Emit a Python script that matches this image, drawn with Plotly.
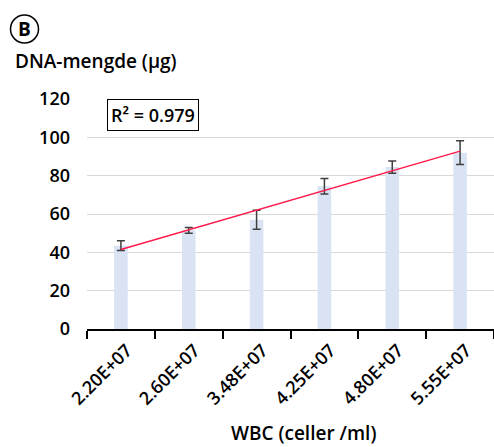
import numpy as np
import plotly.graph_objects as go

# WBC concentration (cells/ml) categories and measured DNA yield
wbc_labels = ["2.20E+07", "2.60E+07", "3.48E+07", "4.25E+07", "4.80E+07", "5.55E+07"]
dna_yield = [43.5, 51.5, 57.0, 74.5, 84.5, 92.0]
dna_sd = [2.5, 1.5, 5.0, 4.0, 3.2, 6.2]
y_ticks = [0, 20, 40, 60, 80, 100, 120]

# linear trend over category index
idx = np.arange(1, len(dna_yield) + 1)
slope, intercept = np.polyfit(idx, dna_yield, 1)
trend = slope * idx + intercept
r2 = np.corrcoef(idx, dna_yield)[0, 1] ** 2

FONT = "Open Sans"
W = 600

fig = go.Figure()
fig.add_trace(go.Bar(
    x=wbc_labels, y=dna_yield,
    marker=dict(color="#dae3f3", line=dict(width=0)),
    error_y=dict(type="data", array=dna_sd, color="#404040", thickness=1.5, width=4),
    showlegend=False,
))
fig.add_trace(go.Scatter(
    x=wbc_labels, y=trend, mode="lines",
    line=dict(color="#ff1a4b", width=1.5),
    showlegend=False,
))

fig.update_layout(
    width=494, height=447,
    margin=dict(l=87, r=0, t=99, b=118),
    paper_bgcolor="white", plot_bgcolor="white",
    bargap=0.8,
    font=dict(family=FONT, color="black", size=18, weight=W),
    xaxis=dict(
        type="category",
        tickangle=-45,
        ticks="outside", ticklen=8, tickwidth=1.5, tickcolor="black",
        tickson="boundaries",
        showline=True, linecolor="black", linewidth=1.5,
        showgrid=False,
        ticklabelshift=6, ticklabelstandoff=2,
        tickfont=dict(size=18, weight=W),
    ),
    yaxis=dict(
        range=[0, 120], tickvals=y_ticks,
        showgrid=True, gridcolor="#d9d9d9", gridwidth=1,
        showline=False, zeroline=False,
        ticks="", ticklabelstandoff=16,
        tickfont=dict(size=18, weight=W),
    ),
    annotations=[
        dict(text="DNA-mengde (µg)", xref="paper", yref="paper", x=-87/407, y=1 + 38/230,
             xanchor="left", yanchor="middle", showarrow=False, xshift=13,
             font=dict(size=19, family=FONT, weight=W)),
        dict(text="WBC (celler /ml)", xref="paper", yref="paper", x=(303 - 87) / 407, y=-104/230,
             xanchor="center", yanchor="middle", showarrow=False,
             font=dict(size=19, family=FONT, weight=W)),
        dict(text=f"R² = {r2:.3f}", xref="paper", yref="paper", x=(153 - 87) / 407, y=1 - 16/230,
             xanchor="center", yanchor="middle", showarrow=False,
             bordercolor="black", borderwidth=1, borderpad=3, bgcolor="white",
             font=dict(size=18, family=FONT, weight=W)),
        dict(text="<b>B</b>", xref="paper", yref="paper", x=(24.5 - 87) / 407, y=1 + 70/230,
             xanchor="center", yanchor="middle", showarrow=False,
             font=dict(size=19, family=FONT)),
    ],
    shapes=[
        dict(type="circle", xref="paper", yref="paper",
             x0=(10.5 - 87) / 407, x1=(38.5 - 87) / 407,
             y0=1 + 56/230, y1=1 + 84/230,
             line=dict(color="black", width=1.5)),
    ],
)

fig.write_html("out.html")
